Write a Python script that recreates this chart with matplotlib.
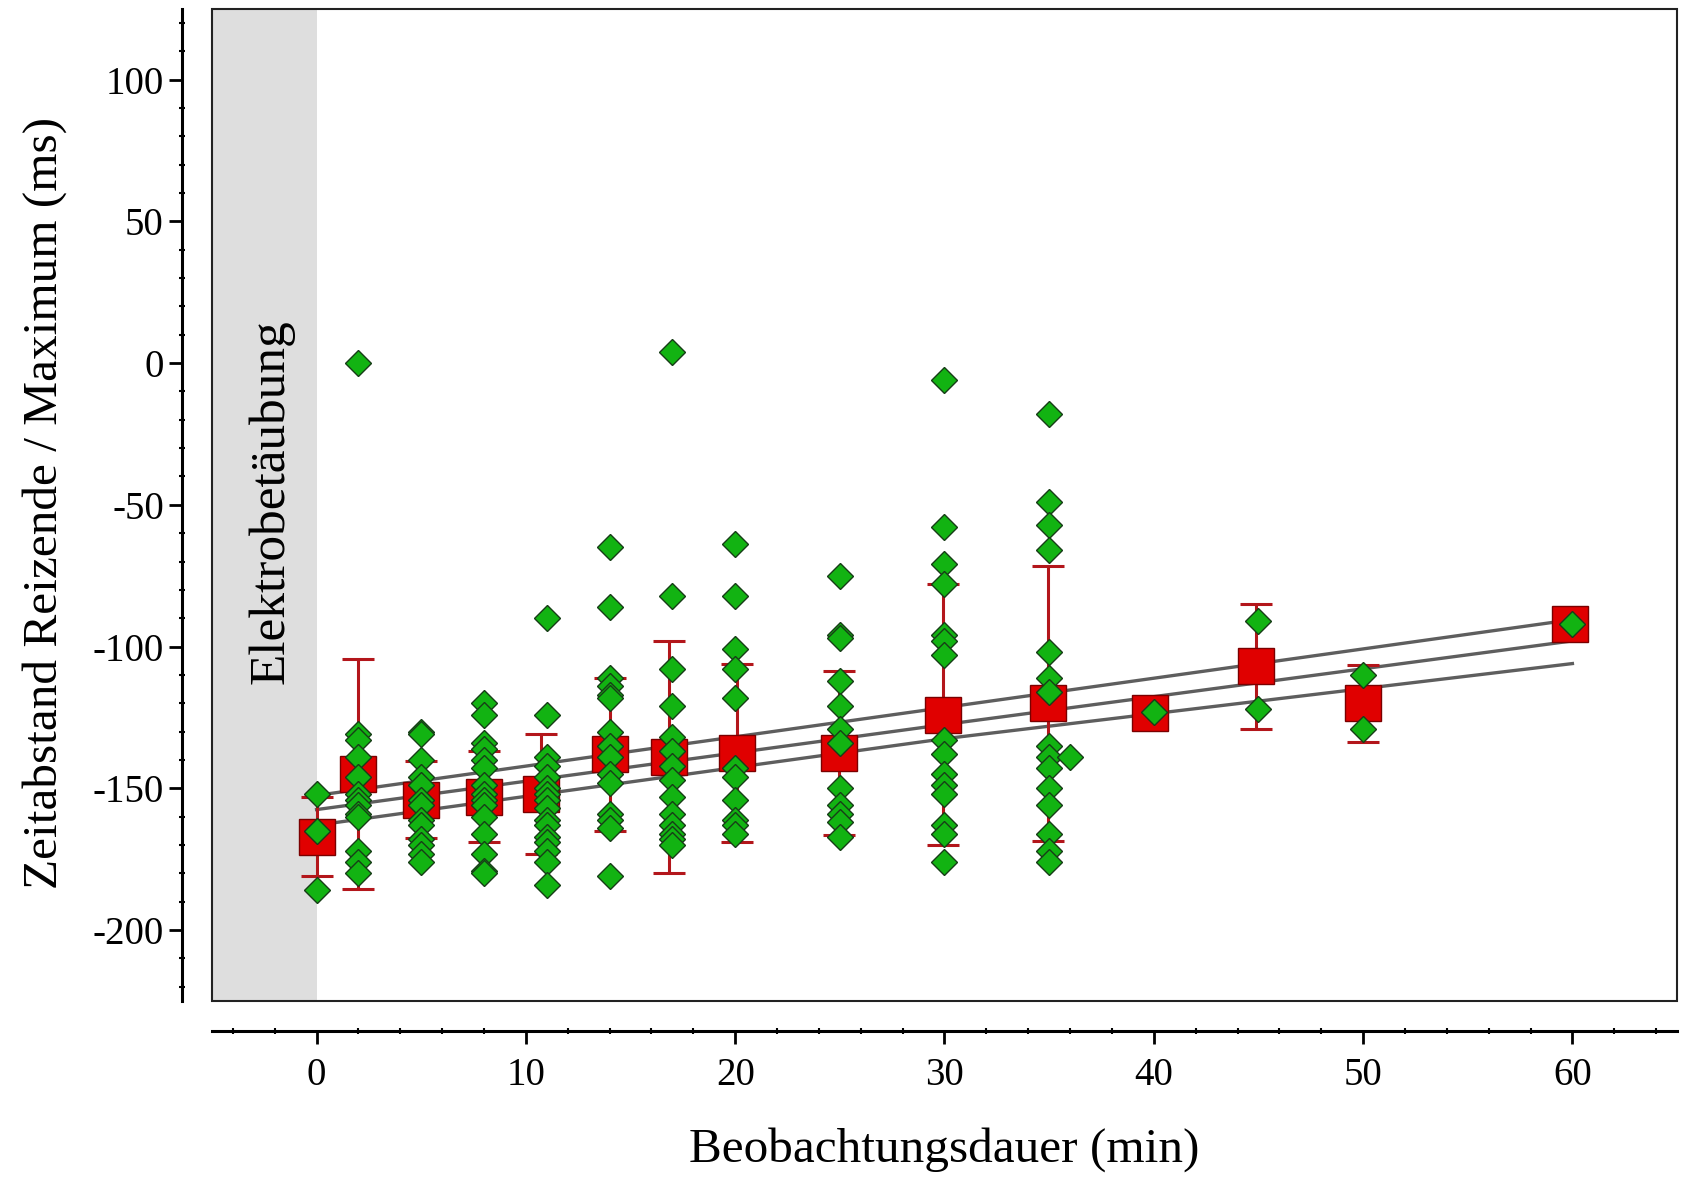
import matplotlib
matplotlib.use('Agg')
import matplotlib.pyplot as plt
from matplotlib.ticker import MultipleLocator
from matplotlib.patches import Rectangle

plt.rcParams['font.family'] = ['Liberation Serif', 'DejaVu Serif']
plt.rcParams['axes.unicode_minus'] = False

# single measurements (green diamonds), one list per observation time
times = [0, 2, 5, 8, 11, 14, 17, 20, 25, 30, 35, 36, 40, 45, 50, 60]
g0 = [-152, -165, -186]
g2 = [0, -131, -133, -139, -146, -152, -154, -156, -159, -160, -172, -176, -180]
g5 = [-130, -131, -140, -146, -149, -154, -156, -161, -163, -168, -170, -173, -176]
g8 = [-120, -124, -134, -136, -140, -143, -149, -152, -154, -156, -160, -166, -173, -179, -180]
g11 = [-90, -124, -139, -142, -146, -150, -152, -154, -157, -161, -163, -167, -169, -172, -176, -184]
g14 = [-65, -86, -111, -114, -117, -118, -130, -135, -139, -145, -148, -159, -161, -164, -181]
g17 = [4, -82, -108, -121, -132, -137, -142, -147, -153, -159, -163, -166, -168, -170]
g20 = [-64, -82, -101, -108, -118, -143, -146, -154, -161, -163, -166]
g25 = [-75, -96, -97, -112, -121, -129, -134, -150, -156, -159, -162, -167]
g30 = [-6, -58, -71, -78, -96, -98, -103, -133, -138, -145, -149, -152, -163, -166, -176]
g35 = [-18, -49, -57, -66, -102, -111, -116, -135, -139, -143, -150, -156, -166, -172, -176]
g36 = [-139]
g40 = [-123]
g45 = [-91, -122]
g50 = [-110, -129]
g60 = [-92]
groups = [g0, g2, g5, g8, g11, g14, g17, g20, g25, g30, g35, g36, g40, g45, g50, g60]

# group means (red squares) with standard deviation
mean_x = [0, 2, 5, 8, 10.7, 14, 16.85, 20.1, 24.95, 29.95, 34.95, 39.8, 44.9, 50, 59.9]
mean_y = [-167, -145, -154, -153, -152, -138, -139, -137.5, -137.5, -124, -120, -123.5, -107, -120, -92]
sd_y = [14, 40.5, 13.7, 16, 21, 27, 41, 31.5, 29, 46, 48.5, 0, 22, 13.5, 0]

# regression line and its band
fit_x = [0, 30, 60]
fit_mid = [-157.5, -127.5, -98]
fit_upper = [-152.5, -121.5, -90.5]
fit_lower = [-163, -132.5, -106]

fig = plt.figure(figsize=(16.86, 11.84), dpi=100)
ax = fig.add_axes([0.1257, 0.1546, 0.869, 0.8381])

ax.axvspan(-5, 0, color='#dedede', zorder=0, lw=0)
ax.text(-2.15, -49, 'Elektrobetäubung', rotation=90, ha='center', va='center',
        fontsize=37, zorder=1)

for yy in (fit_upper, fit_mid, fit_lower):
    ax.plot(fit_x, yy, color='#5e5e5e', lw=2.4, zorder=2)

ax.errorbar(mean_x, mean_y, yerr=sd_y, fmt='none', ecolor='#b3161b',
            elinewidth=2.2, capsize=11.5, capthick=2.2, zorder=3)
ax.plot(mean_x, mean_y, 's', ms=25.5, color='#e00000', mec='#7a0000', mew=1.0,
        ls='none', zorder=4)

for t, vals in zip(times, groups):
    ax.plot([t] * len(vals), vals, 'D', ms=13, color='#12b312', mec='#173d17',
            mew=1.0, ls='none', zorder=5)

ax.set_xlim(-5, 65)
ax.set_ylim(-225, 125)
ax.set_xticks(range(0, 61, 10))
ax.set_yticks(range(-200, 101, 50))
ax.xaxis.set_minor_locator(MultipleLocator(2))
ax.yaxis.set_minor_locator(MultipleLocator(10))

for side in ('top', 'right'):
    ax.spines[side].set_visible(False)
for side in ('left', 'bottom'):
    ax.spines[side].set_position(('outward', 21.6))
    ax.spines[side].set_linewidth(2.2)

ax.add_patch(Rectangle((0, 0), 1, 1, transform=ax.transAxes, fill=False,
                       ec='#222222', lw=1.5, zorder=6, clip_on=False))

ax.tick_params(axis='both', which='major', direction='out', length=9.5, width=2,
               labelsize=28)
ax.tick_params(axis='both', which='minor', direction='inout', length=5, width=1.5)
ax.tick_params(axis='y', which='major', pad=3.5)
ax.tick_params(axis='x', which='major', pad=9)

ax.set_xlabel('Beobachtungsdauer (min)', fontsize=35.5, va='center')
ax.xaxis.set_label_coords(0.5, -0.150)
ax.set_ylabel('Zeitabstand Reizende / Maximum (ms)', fontsize=35.5, va='center')
ax.yaxis.set_label_coords(-0.114, 0.502)

fig.savefig('out.png', dpi=100)
